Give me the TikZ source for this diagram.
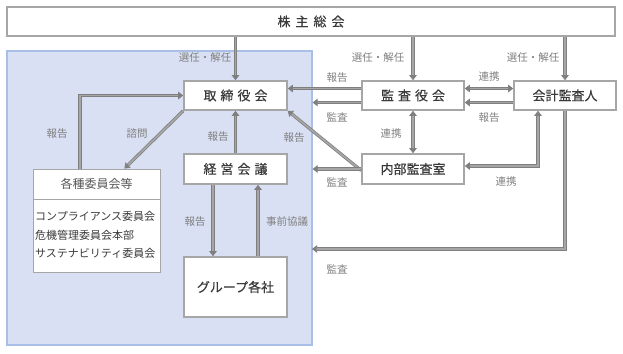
\documentclass[tikz,border=0pt]{standalone}
\usepackage{fontspec}
\setmainfont{Noto Sans CJK JP}
\newfontfamily\boldishfont[FakeBold=0.4]{Noto Sans CJK JP}
\usetikzlibrary{arrows.meta,calc}
\definecolor{arrgray}{HTML}{7F7F7F}
\definecolor{arrlight}{HTML}{A6A6A6}
\definecolor{boxgray}{HTML}{A6A6A6}
\definecolor{txtdark}{HTML}{3A3A3A}
\definecolor{lblgray}{HTML}{808080}
\definecolor{regfill}{HTML}{D9E0F3}
\definecolor{regline}{HTML}{A9BFE8}
\newcommand\gapj{\hspace{4pt}}
\begin{document}
\begin{tikzpicture}[x=1pt,y=-1pt,
  mainbox/.style={draw=boxgray,line width=1.6pt,fill=white,inner sep=0pt,text=txtdark,font=\boldishfont\fontsize{13}{15}\selectfont},
  lbl/.style={text=lblgray,inner sep=0pt,font=\fontsize{10.5}{12}\selectfont},
  arr/.style={draw=arrgray,double=arrlight,double distance=1.7pt,line width=0.75pt,-{Triangle[length=5pt,width=7.5pt]}},
  arrb/.style={arr,{Triangle[length=5pt,width=7.5pt]}-{Triangle[length=5pt,width=7.5pt]}}]
\useasboundingbox (0,0) rectangle (623,353);
\fill[white] (0,0) rectangle (623,353);
% region
\node[draw=regline,line width=1.2pt,fill=regfill,minimum width=305pt,minimum height=294pt,inner sep=0pt] (region) at (159.5,198) {};
% boxes
\node[mainbox,minimum width=608pt,minimum height=29pt] (sh) at (311,21.5) {株\hspace{5pt}主\hspace{5pt}総\hspace{5pt}会};
\node[mainbox,minimum width=103pt,minimum height=29pt] (tori) at (235.5,95.5) {取\gapj 締\gapj 役\gapj 会};
\node[mainbox,minimum width=103pt,minimum height=30pt] (keiei) at (235.5,169) {経\gapj 営\gapj 会\gapj 議};
\node[mainbox,minimum width=103pt,minimum height=60pt] (group) at (235.5,287) {グループ各社};
\node[mainbox,minimum width=102pt,minimum height=29pt] (kansa) at (413,95.5) {監\gapj 査\gapj 役\gapj 会};
\node[mainbox,minimum width=102pt,minimum height=29pt] (kaikei) at (565,95.5) {会計監査人};
\node[mainbox,minimum width=102pt,minimum height=30pt] (naibu) at (413,169) {内部監査室};
% committee box
\node[draw=boxgray,line width=0.9pt,fill=white,minimum width=127pt,minimum height=103pt,inner sep=0pt] (iin) at (96.5,220.5) {};
\coordinate (ihl) at (33,199);
\coordinate (ihr) at (160,199);
\draw[draw=boxgray,line width=0.9pt] (ihl) -- (ihr);
\node[text=txtdark!85,inner sep=0pt,font=\fontsize{12}{14}\selectfont] (ihead) at (96.5,184) {各種委員会等};
\node[text=txtdark,inner sep=0pt,anchor=west,font=\fontsize{11}{13}\selectfont] (i1) at (35,216) {コンプライアンス委員会};
\node[text=txtdark,inner sep=0pt,anchor=west,font=\fontsize{11}{13}\selectfont] (i2) at (35,235) {危機管理委員会本部};
\node[text=txtdark,inner sep=0pt,anchor=west,font=\fontsize{11}{13}\selectfont] (i3) at (35,253) {サステナビリティ委員会};
% coordinates
\coordinate (kw1) at ([yshift=7pt]kansa.west);
\coordinate (kw2) at ([yshift=-7pt]kansa.west);
\coordinate (ke1) at ([yshift=7pt]kansa.east);
\coordinate (kk2) at ([yshift=-7pt]kaikei.west);
\coordinate (ne) at ([yshift=3pt]naibu.east);
\coordinate (ks) at ([xshift=-27pt]kaikei.south);
\coordinate (a3) at (312,249);
\coordinate (kgl) at ([xshift=-22.5pt]keiei.south);
\coordinate (kgr) at ([xshift=22.5pt]group.north);
\coordinate (in1) at ([xshift=-16.5pt]iin.north);
\coordinate (in2) at ([xshift=-36pt]iin.north east);
\coordinate (nw) at ([yshift=-1.5pt]naibu.west);
% arrows
\draw[arr] (tori.north |- sh.south) -- (tori.north);
\draw[arr] (kansa.north |- sh.south) -- (kansa.north);
\draw[arr] (kaikei.north |- sh.south) -- (kaikei.north);
\draw[arr] (kw1) -- (kw1 -| tori.east);
\draw[arr] (kw2) -- (kw2 -| region.east);
\draw[arrb] (ke1) -- (ke1 -| kaikei.west);
\draw[arr] (kk2) -- (kk2 -| kansa.east);
\draw[arrb] (kansa.south) -- (naibu.north);
\draw[arr] (nw) -- (tori.south east);
\draw[arr] (naibu.west) -- (naibu.west -| region.east);
\draw[arrb] (ne) -| (ks);
\draw[arr] (kaikei.south) |- (a3);
\draw[arr] (keiei.north) -- (tori.south);
\draw[arr] (kgl) -- (kgl |- group.north);
\draw[arr] (kgr) -- (kgr |- keiei.south);
\draw[arr] (in1) |- (tori.west);
\draw[arr] (tori.south west) -- (in2);
% labels
\node[lbl] (l1) at (205,58) {選任・解任};
\node[lbl] (l2) at (378,58) {選任・解任};
\node[lbl] (l3) at (533,58) {選任・解任};
\node[lbl] (l4) at (337,78) {報告};
\node[lbl] (l5) at (337,117) {監査};
\node[lbl] (l6) at (489,77) {連携};
\node[lbl] (l7) at (489,118) {報告};
\node[lbl] (l8) at (391,134) {連携};
\node[lbl] (l9) at (294,138) {報告};
\node[lbl] (l10) at (337,182) {監査};
\node[lbl] (l11) at (506,182) {連携};
\node[lbl] (l12) at (337,269) {監査};
\node[lbl] (l13) at (218,137) {報告};
\node[lbl] (l14) at (195,222) {報告};
\node[lbl] (l15) at (287,222) {事前協議};
\node[lbl] (l16) at (57,134) {報告};
\node[lbl] (l17) at (137,134) {諮問};
\end{tikzpicture}
\end{document}
